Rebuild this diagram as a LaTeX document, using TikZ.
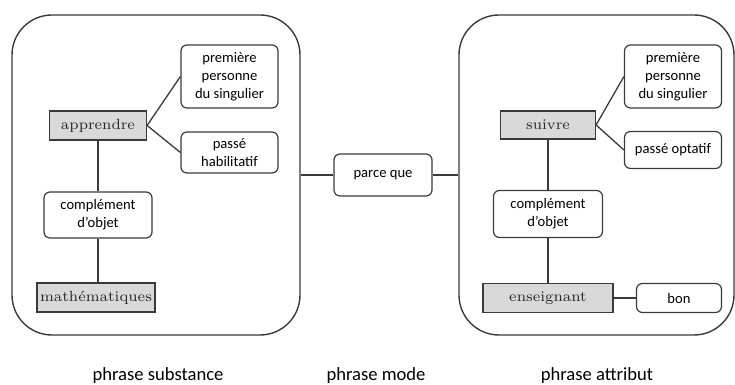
\documentclass[tikz,border=0pt]{standalone}
\usepackage{fontspec}
\newfontfamily\carlito{Carlito}
\definecolor{boxgray}{HTML}{D9D9D9}
\definecolor{linegray}{HTML}{3A3A3A}

\begin{document}
\begin{tikzpicture}[x=0.5pt,y=-0.5pt]

\tikzstyle{phrase}=[rectangle,draw=linegray,line width=0.7pt,rounded corners=20pt]
\tikzstyle{word}=[rectangle,draw=linegray,fill=boxgray,line width=0.6pt,inner sep=0pt,text=black!85,font=\fontsize{7.4}{9}\selectfont]
\tikzstyle{feat}=[rectangle,draw=linegray,line width=0.6pt,rounded corners=3pt,inner sep=0pt,align=center,font=\carlito\fontsize{7.3}{9}\selectfont]
\tikzstyle{caption}=[font=\carlito\fontsize{9.3}{11}\selectfont]
\tikzstyle{link}=[draw=linegray,line width=0.65pt]

\useasboundingbox (0,0) rectangle (735,385);

% the two phrases
\node[phrase,minimum width=144pt,minimum height=160pt] (sub) at (156,175) {} ;
\node[phrase,minimum width=137.5pt,minimum height=160pt] (att) at (596.5,175) {} ;

% phrase substance
\node[word,minimum width=48.5pt,minimum height=14.5pt] (app)  at (98,125.5) {apprendre} ;
\node[feat,minimum width=48.5pt,minimum height=31.5pt] (pp1)  at (229.5,76.5) {première\\personne\\du singulier} ;
\node[feat,minimum width=48.5pt,minimum height=20.5pt] (hab)  at (229.5,152.5) {passé\\habilitatif} ;
\node[feat,minimum width=54pt,minimum height=23pt]     (co1)  at (98,215) {complément\\d’objet} ;
\node[word,minimum width=59pt,minimum height=14.5pt]   (math) at (96,297.5) {mathématiques} ;

% phrase mode
\node[feat,minimum width=49pt,minimum height=21pt] (pq) at (383,175) {parce que} ;

% phrase attribut
\node[word,minimum width=47.5pt,minimum height=14pt]   (suiv) at (548,125) {suivre} ;
\node[feat,minimum width=48.5pt,minimum height=31.5pt] (pp2)  at (673,76.5) {première\\personne\\du singulier} ;
\node[feat,minimum width=48.5pt,minimum height=18.5pt] (opt)  at (673,150) {passé optatif} ;
\node[feat,minimum width=54.5pt,minimum height=23.5pt] (co2)  at (548,214) {complément\\d’objet} ;
\node[word,minimum width=65pt,minimum height=14.5pt]   (ens)  at (548,298) {enseignant} ;
\node[feat,minimum width=42.5pt,minimum height=14.5pt] (bon)  at (679,298) {bon} ;

\draw[link] (app.east) -- (pp1.west) ;
\draw[link] (app.east) -- (hab.west) ;
\draw[link] (app) -- (co1) -- (co1 |- math.north) ;

\draw[link] (sub) -- (pq) -- (att) ;

\draw[link] (suiv.east) -- (pp2.west) ;
\draw[link] (suiv.east) -- (opt.west) ;
\draw[link] (suiv) -- (co2) -- (ens) -- (bon) ;

% captions
\node[caption] (cs) at (158,376) {phrase substance} ;
\node[caption] (cm) at (376,376) {phrase mode} ;
\node[caption] (ca) at (597,376) {phrase attribut} ;

\end{tikzpicture}
\end{document}
